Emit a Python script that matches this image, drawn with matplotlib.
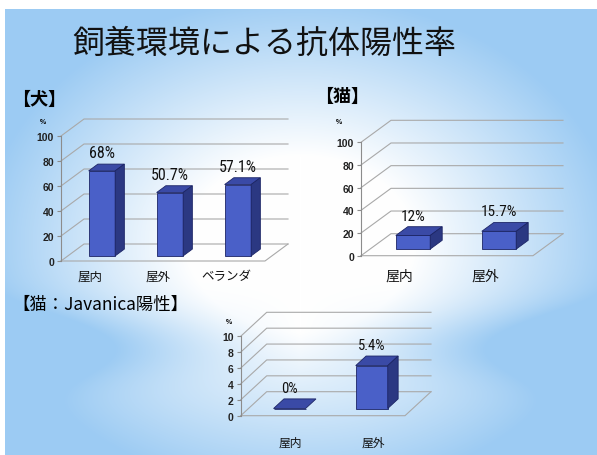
import numpy as np
import matplotlib.pyplot as plt
from matplotlib import font_manager

plt.rcParams['font.family'] = ['Noto Sans CJK JP', 'DejaVu Sans']

W, H = 597, 456

# chart data
title = '飼養環境による抗体陽性率'
dog_cats = ['屋内', '屋外', 'ベランダ']
dog_vals = [68, 50.7, 57.1]
dog_labels = ['68%', '50.7%', '57.1%']
cat_cats = ['屋内', '屋外']
cat_vals = [12, 15.7]
cat_labels = ['12%', '15.7%']
jav_cats = ['屋内', '屋外']
jav_vals = [0, 5.4]
jav_labels = ['0%', '5.4%']
pct_ticks = [0, 20, 40, 60, 80, 100]
jav_ticks = [0, 2, 4, 6, 8, 10]

FRONT = '#4a60c8'
TOP = '#3a4aa6'
SIDE = '#2b3882'
EDGE = '#1c2566'
GRID = '#a9a9a9'

# the value labels use a narrow face in the slide; pick one if installed
_fonts = font_manager.fontManager.ttflist
_names = {f.name for f in _fonts}
VAL_KW, VAL_SCALE = {'family': 'Liberation Sans'}, 0.95
for cand in ['Liberation Sans Narrow', 'DejaVu Sans Condensed', 'Roboto Condensed',
             'Open Sans Condensed']:
    if cand in _names:
        VAL_KW, VAL_SCALE = {'family': cand}, 1.0
        break
else:
    if any(f.name == 'DejaVu Sans' and f.stretch == 'condensed' for f in _fonts):
        VAL_KW, VAL_SCALE = {'family': 'DejaVu Sans', 'fontstretch': 'condensed'}, 0.95


def make_background(fig):
    bg = fig.add_axes([0, 0, 1, 1], zorder=-10)
    yy, xx = np.mgrid[0:H, 0:W].astype(float)
    t = np.sqrt(((xx - 300) / 320.0) ** 2 + ((yy - 245) / 250.0) ** 2)
    t = np.clip((t - 0.35) / 0.65, 0, 1)
    # bluish band on the left/right near the lower heading
    band = np.exp(-((yy - 345) / 35.0) ** 2) * np.clip(np.abs(xx - 300) / 250.0, 0, 1)
    t = np.clip(t + 0.6 * band, 0, 1)
    blue = np.array([156, 203, 243]) / 255.0
    white = np.array([1.0, 1.0, 1.0])
    img = white * (1 - t[..., None]) + blue * t[..., None]
    img[:10, :] = 1.0
    img[:, :5] = 1.0
    bg.imshow(img, extent=[0, W, H, 0], aspect='auto')
    bg.set_xlim(0, W)
    bg.set_ylim(H, 0)
    bg.axis('off')


def bar3d_chart(fig, box, cats, vals, labels, ticks, depth, lab_off, pct_off,
                fs_val, fs_cat, bw=0.39):
    x0, x1, y0, ytop = box
    ax = fig.add_axes([x0 / W, 1 - y0 / H, (x1 - x0) / W, (y0 - ytop) / H])
    ax.patch.set_alpha(0)
    n = len(cats)
    vmax = ticks[-1]
    ax.set_xlim(-0.5, n - 0.5)
    ax.set_ylim(0, vmax)
    ddx = depth[0] / (x1 - x0) * n
    ddy = depth[1] / (y0 - ytop) * vmax

    for s in ['top', 'right', 'bottom']:
        ax.spines[s].set_visible(False)
    ax.spines['left'].set_color('#8c8c8c')
    ax.spines['left'].set_linewidth(0.8)
    ax.set_xticks([])
    ax.set_yticks(ticks)
    ax.tick_params(axis='y', length=3, width=0.8, color='#8c8c8c', pad=2,
                   labelsize=7.5, labelcolor='#222222')
    for lab in ax.get_yticklabels():
        lab.set_fontweight('bold')
        lab.set_family('Liberation Sans')

    # back wall grid + left wall diagonals
    for t in ticks:
        ax.plot([-0.5, -0.5 + ddx, n - 0.5 + ddx], [t, t + ddy, t + ddy],
                color=GRID, lw=0.8, clip_on=False, zorder=1)
    # floor
    ax.plot([-0.5, n - 0.5, n - 0.5 + ddx], [0, 0, ddy],
            color=GRID, lw=0.8, clip_on=False, zorder=1)

    f0, f1 = 0.3, 0.7
    bdx, bdy = (f1 - f0) * ddx, (f1 - f0) * ddy
    for i, v in enumerate(vals):
        xc = i + f0 * ddx
        yb = f0 * ddy
        ax.bar(xc, v, width=bw, bottom=yb, color=FRONT, edgecolor=EDGE,
               linewidth=0.6, zorder=3, clip_on=False)
        xl, xr, yt = xc - bw / 2, xc + bw / 2, yb + v
        ax.fill([xl, xr, xr + bdx, xl + bdx], [yt, yt, yt + bdy, yt + bdy],
                facecolor=TOP, edgecolor=EDGE, linewidth=0.6, zorder=4, clip_on=False)
        if v > 0:
            ax.fill([xr, xr, xr + bdx, xr + bdx], [yb, yt, yt + bdy, yb + bdy],
                    facecolor=SIDE, edgecolor=EDGE, linewidth=0.6, zorder=4, clip_on=False)
        ax.annotate(labels[i], xy=(xc, yt + bdy), xytext=(0, 3),
                    textcoords='offset points', ha='center', va='bottom',
                    fontsize=fs_val * VAL_SCALE, color='#111111', **VAL_KW)
        ax.annotate(cats[i], xy=(i, 0), xytext=(lab_off[0] * 0.72, -lab_off[1] * 0.72),
                    textcoords='offset points', ha='center', va='center',
                    fontsize=fs_cat, color='#111111')

    ax.annotate('%', xy=(-0.5, vmax), xytext=(pct_off[0] * 0.72, pct_off[1] * 0.72),
                textcoords='offset points', ha='center', va='center',
                fontsize=5, fontweight='bold', family='Liberation Sans')
    return ax


fig = plt.figure(figsize=(W / 100, H / 100), dpi=100)
make_background(fig)

fig.text(264 / W, 1 - 44 / H, title, fontsize=23, ha='center', va='center', color='#111111')
fig.text(12 / W, 1 - 99 / H, '【犬】', fontsize=13, fontweight='bold', ha='left', va='center')
fig.text(315 / W, 1 - 96 / H, '【猫】', fontsize=13, fontweight='bold', ha='left', va='center')
fig.text(12 / W, 1 - 305 / H, '【猫：Javanica陽性】', fontsize=12.5, ha='left', va='center')

bar3d_chart(fig, (61, 265, 262, 137), dog_cats, dog_vals, dog_labels, pct_ticks,
            depth=(23, 17), lab_off=(-5, 15), pct_off=(-18, 15), fs_val=11.5, fs_cat=9)
bar3d_chart(fig, (361, 533, 256.7, 143.3), cat_cats, cat_vals, cat_labels, pct_ticks,
            depth=(30, 22), lab_off=(-5, 20), pct_off=(-22, 21), fs_val=11, fs_cat=10,
            bw=0.4)
bar3d_chart(fig, (240.7, 405, 416.7, 337.3), jav_cats, jav_vals, jav_labels, jav_ticks,
            depth=(26, 24), lab_off=(9, 26), pct_off=(-12, 15), fs_val=10.5, fs_cat=8.5)

fig.savefig('out.png', dpi=100)
